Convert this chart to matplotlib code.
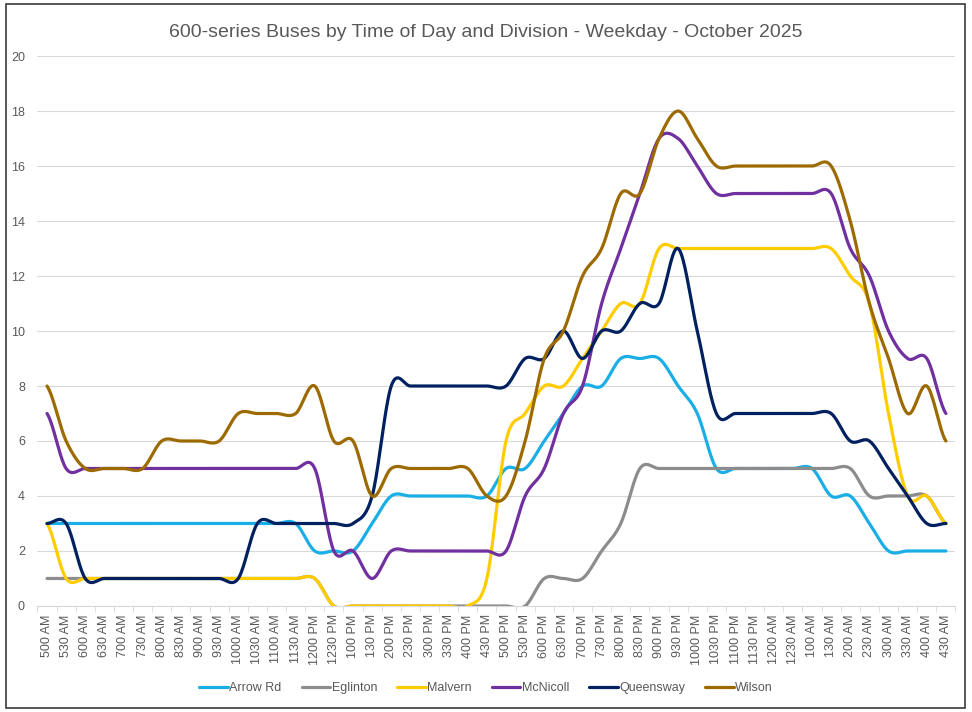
import matplotlib
matplotlib.use("Agg")
import matplotlib.pyplot as plt
from matplotlib.patches import Rectangle
import numpy as np

plt.rcParams['font.family'] = ['Liberation Sans', 'DejaVu Sans']

time_labels = ["500 AM", "530 AM", "600 AM", "630 AM", "700 AM", "730 AM", "800 AM", "830 AM",
               "900 AM", "930 AM", "1000 AM", "1030 AM", "1100 AM", "1130 AM", "1200 PM", "1230 PM",
               "100 PM", "130 PM", "200 PM", "230 PM", "300 PM", "330 PM", "400 PM", "430 PM",
               "500 PM", "530 PM", "600 PM", "630 PM", "700 PM", "730 PM", "800 PM", "830 PM",
               "900 PM", "930 PM", "1000 PM", "1030 PM", "1100 PM", "1130 PM", "1200 AM", "1230 AM",
               "100 AM", "130 AM", "200 AM", "230 AM", "300 AM", "330 AM", "400 AM", "430 AM"]

arrow_rd = [3, 3, 3, 3, 3, 3, 3, 3, 3, 3, 3, 3, 3, 3, 2, 2, 2, 3, 4, 4, 4, 4, 4, 4,
            5, 5, 6, 7, 8, 8, 9, 9, 9, 8, 7, 5, 5, 5, 5, 5, 5, 4, 4, 3, 2, 2, 2, 2]
eglinton = [1, 1, 1, 1, 1, 1, 1, 1, 1, 1, 1, 1, 1, 1, 1, 0, 0, 0, 0, 0, 0, 0, 0, 0,
            0, 0, 1, 1, 1, 2, 3, 5, 5, 5, 5, 5, 5, 5, 5, 5, 5, 5, 5, 4, 4, 4, 4, 3]
malvern = [3, 1, 1, 1, 1, 1, 1, 1, 1, 1, 1, 1, 1, 1, 1, 0, 0, 0, 0, 0, 0, 0, 0, 1,
           6, 7, 8, 8, 9, 10, 11, 11, 13, 13, 13, 13, 13, 13, 13, 13, 13, 13, 12, 11, 7, 4, 4, 3]
mcnicoll = [7, 5, 5, 5, 5, 5, 5, 5, 5, 5, 5, 5, 5, 5, 5, 2, 2, 1, 2, 2, 2, 2, 2, 2,
            2, 4, 5, 7, 8, 11, 13, 15, 17, 17, 16, 15, 15, 15, 15, 15, 15, 15, 13, 12, 10, 9, 9, 7]
queensway = [3, 3, 1, 1, 1, 1, 1, 1, 1, 1, 1, 3, 3, 3, 3, 3, 3, 4, 8, 8, 8, 8, 8, 8,
             8, 9, 9, 10, 9, 10, 10, 11, 11, 13, 10, 7, 7, 7, 7, 7, 7, 7, 6, 6, 5, 4, 3, 3]
wilson = [8, 6, 5, 5, 5, 5, 6, 6, 6, 6, 7, 7, 7, 7, 8, 6, 6, 4, 5, 5, 5, 5, 5, 4,
          4, 6, 9, 10, 12, 13, 15, 15, 17, 18, 17, 16, 16, 16, 16, 16, 16, 16, 14, 11, 9, 7, 8, 6]

series_names = ["Arrow Rd", "Eglinton", "Malvern", "McNicoll", "Queensway", "Wilson"]
series_colors = ["#1AAEE6", "#8C8C8C", "#FFCC00", "#7030A0", "#002060", "#9C6A00"]


def smooth(y, steps=20):
    # Excel-like smoothed line (Catmull-Rom through each point)
    y = np.asarray(y, dtype=float)
    n = len(y)
    m = np.zeros(n)
    m[1:-1] = (y[2:] - y[:-2]) / 2
    m[0] = (y[1] - y[0]) / 2
    m[-1] = (y[-1] - y[-2]) / 2
    t = np.linspace(0, 1, steps, endpoint=False)
    h00 = 2 * t**3 - 3 * t**2 + 1
    h10 = t**3 - 2 * t**2 + t
    h01 = -2 * t**3 + 3 * t**2
    h11 = t**3 - t**2
    xs, ys = [], []
    for i in range(n - 1):
        xs.append(i + t)
        ys.append(h00 * y[i] + h10 * m[i] + h01 * y[i + 1] + h11 * m[i + 1])
    xs.append([n - 1])
    ys.append([y[-1]])
    return np.concatenate(xs), np.concatenate(ys)


fig = plt.figure(figsize=(9.72, 7.12), dpi=100)
ax = fig.add_axes([0.0385, 0.1489, 0.9445, 0.7724])

all_series = [arrow_rd, eglinton, malvern, mcnicoll, queensway, wilson]
for name, vals, col in zip(series_names, all_series, series_colors):
    sx, sy = smooth(vals)
    ax.plot(sx, sy, color=col, lw=2.3, label=name, solid_capstyle='round')

ax.set_xlim(-0.5, len(time_labels) - 0.5)
ax.set_ylim(0, 20)
ax.set_yticks(range(0, 21, 2))
ax.set_xticks(range(len(time_labels)))
ax.set_xticklabels(time_labels, rotation=90, fontsize=9, color="#595959")
ax.set_xticks(np.arange(-0.5, len(time_labels), 1), minor=True)
ax.tick_params(axis='x', which='major', length=0, pad=6)
ax.tick_params(axis='x', which='minor', length=4, color="#D9D9D9")
ax.tick_params(axis='y', length=0, labelsize=9, labelcolor="#595959", pad=9)
ax.grid(axis='y', color="#D9D9D9", lw=0.8)
ax.set_axisbelow(True)
for s in ['top', 'right', 'left']:
    ax.spines[s].set_visible(False)
ax.spines['bottom'].set_color("#D9D9D9")

ax.set_title("600-series Buses by Time of Day and Division - Weekday - October 2025",
             fontsize=14, color="#595959", pad=14, x=0.488)

fig.legend(loc='center', bbox_to_anchor=(0.5, 1 - 688 / 712), ncol=6, frameon=False,
           fontsize=9, handlelength=2.3, handletextpad=0.1, columnspacing=1.6,
           labelcolor="#595959")

fig.patches.append(Rectangle((6 / 972, 4 / 712), 959 / 972, 704 / 712, transform=fig.transFigure,
                             fill=False, edgecolor="#3A3A3A", lw=1.2))

fig.savefig("out.png", dpi=100)
